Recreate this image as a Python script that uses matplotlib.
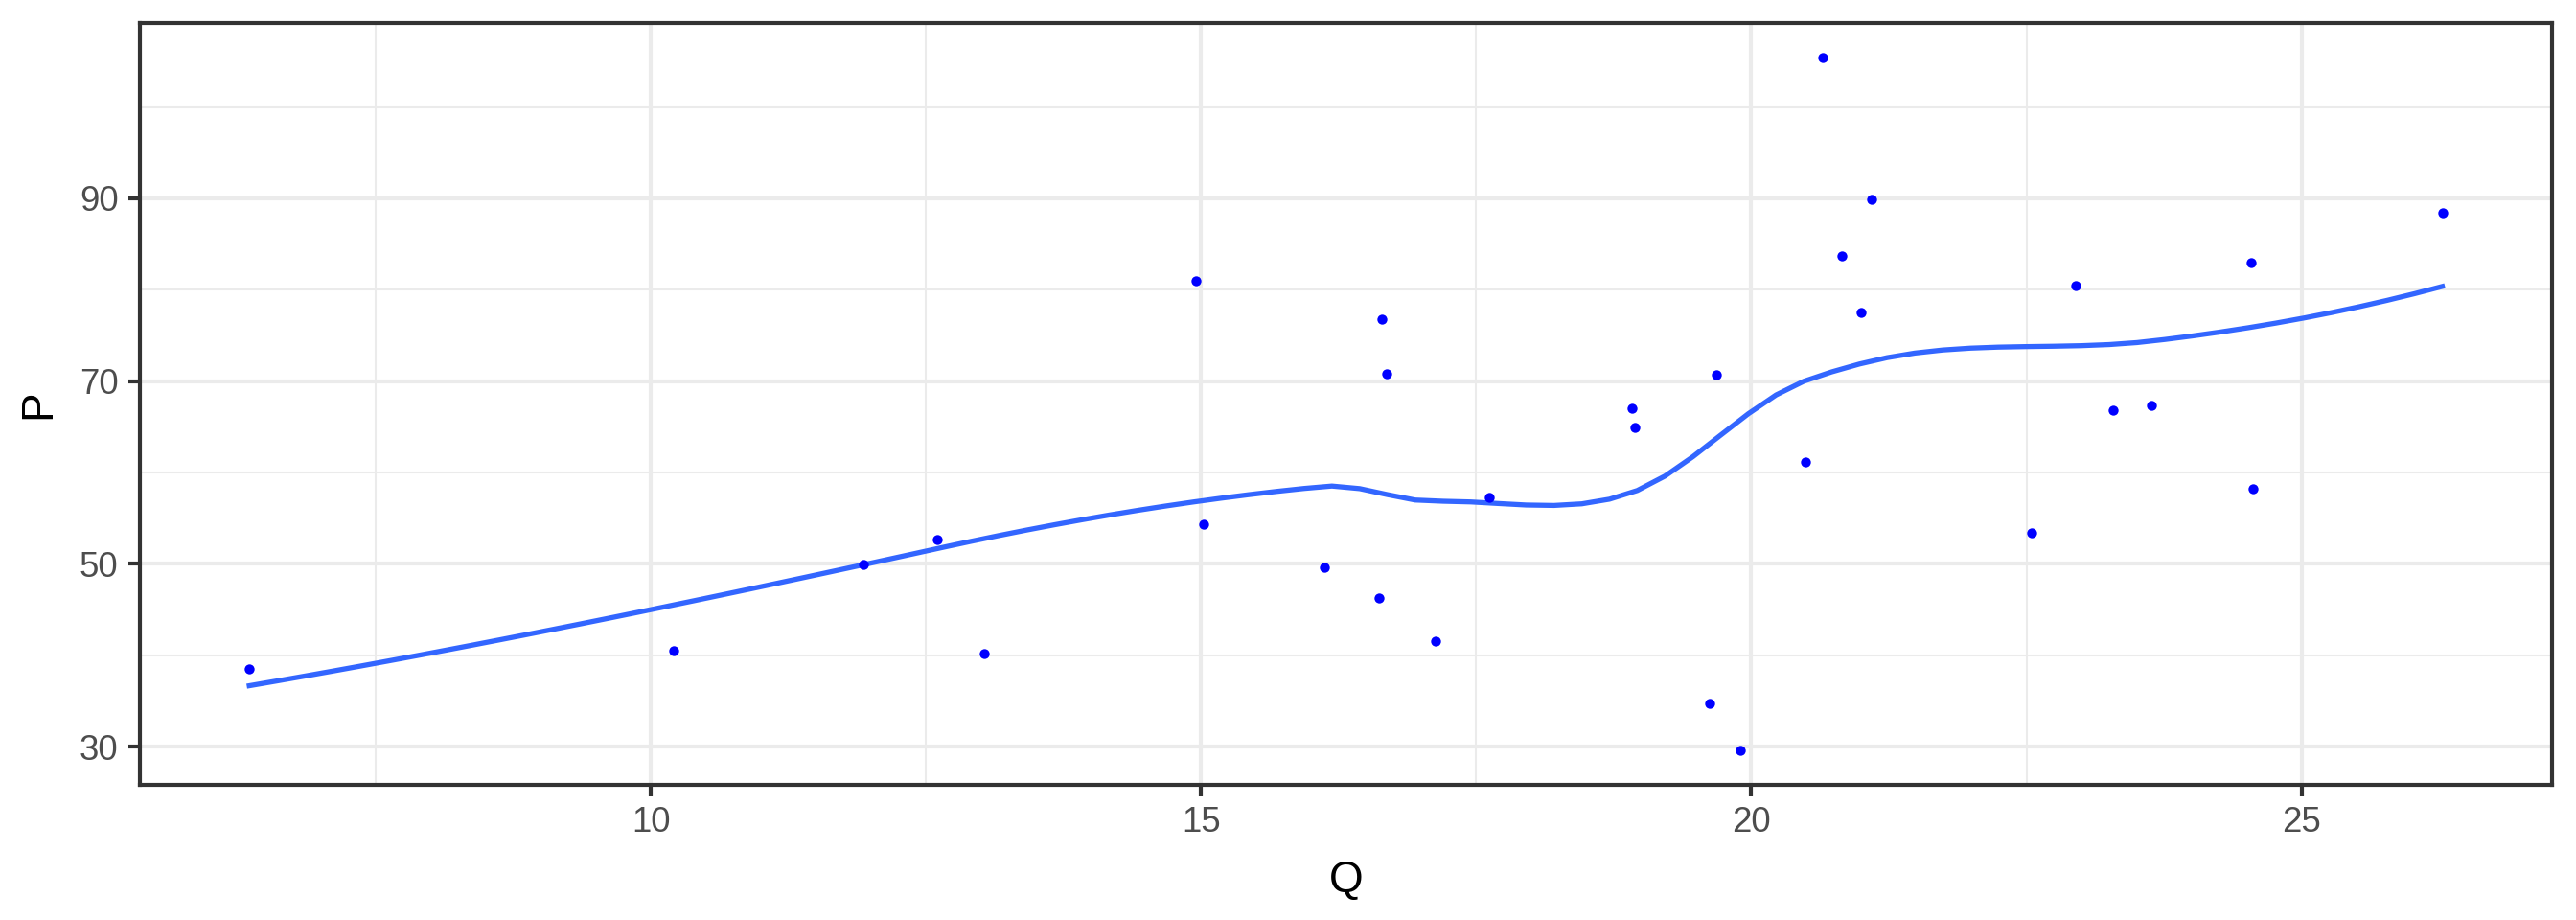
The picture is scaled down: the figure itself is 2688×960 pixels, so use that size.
import numpy as np
import matplotlib
matplotlib.use("Agg")
import matplotlib.pyplot as plt
from matplotlib.ticker import MultipleLocator

# data
Q = [6.35, 10.21, 11.93, 12.60, 13.03, 14.95, 15.02, 16.12, 16.62, 16.64,
     16.69, 17.13, 17.62, 18.92, 18.94, 19.62, 19.68, 19.90, 20.49, 20.65,
     20.82, 21.00, 21.09, 22.55, 22.95, 23.29, 23.64, 24.54, 24.56, 26.28]
P = [38.5, 40.5, 49.9, 52.7, 40.2, 81.0, 54.3, 49.6, 46.3, 76.8,
     70.8, 41.5, 57.3, 67.0, 64.9, 34.7, 70.7, 29.6, 61.2, 105.4,
     83.7, 77.5, 89.9, 53.4, 80.5, 66.8, 67.3, 83.0, 58.2, 88.4]

x_ticks = [10, 15, 20, 25]
y_ticks = [30, 50, 70, 90]


def local_fit(x, y, v, q):
    # local quadratic fit at v with tricube weights (like R loess)
    d = np.abs(x - v)
    dq = np.sort(d)[q - 1]
    u = np.clip(d / dq, 0, 1)
    w = (1 - u ** 3) ** 3
    X = np.column_stack([np.ones_like(x), x - v, (x - v) ** 2])
    sw = np.sqrt(w)
    b = np.linalg.lstsq(X * sw[:, None], y * sw, rcond=None)[0]
    return b[0], b[1]


def loess(x, y, xs, span=0.75, cell=0.2):
    # R's default surface="interpolate": kd-tree vertices + cubic hermite
    n = len(x)
    xs_sorted = np.sort(x)
    q = int(np.floor(n * span + 1e-5))
    fc = int(np.floor(n * span * cell))
    mu = 0.005 * (x.max() - x.min())
    verts = {x.min() - mu, x.max() + mu}

    def split(l, u):
        if u - l + 1 <= fc:
            return
        m = (l + u) // 2
        verts.add(xs_sorted[m - 1])
        split(l, m)
        split(m + 1, u)

    split(1, n)
    verts = np.array(sorted(verts))
    vals = np.array([local_fit(x, y, v, q) for v in verts])
    out = []
    for z in xs:
        i = min(np.searchsorted(verts, z, side="right") - 1, len(verts) - 2)
        v0, v1 = verts[i], verts[i + 1]
        h = v1 - v0
        t = (z - v0) / h
        g0, d0 = vals[i]
        g1, d1 = vals[i + 1]
        phi0 = (1 - t) ** 2 * (1 + 2 * t)
        phi1 = t ** 2 * (3 - 2 * t)
        psi0 = t * (1 - t) ** 2
        psi1 = -t ** 2 * (1 - t)
        out.append(phi0 * g0 + phi1 * g1 + (psi0 * d0 + psi1 * d1) * h)
    return np.array(out)


q = np.array(Q)
p = np.array(P)
grid = np.linspace(q.min(), q.max(), 80)
smooth = loess(q, p, grid)

plt.rcParams["font.family"] = ["Liberation Sans", "DejaVu Sans"]

W, H, DPI = 2688, 960, 300
fig = plt.figure(figsize=(W / DPI, H / DPI), dpi=DPI)
left, right, top, bottom = 145.7, 2663, 24, 819
ax = fig.add_axes([left / W, 1 - bottom / H, (right - left) / W, (bottom - top) / H])

xr = q.max() - q.min()
yr = p.max() - p.min()
ax.set_xlim(q.min() - 0.05 * xr, q.max() + 0.05 * xr)
ax.set_ylim(p.min() - 0.05 * yr, p.max() + 0.05 * yr)

ax.set_xticks(x_ticks)
ax.set_yticks(y_ticks)
ax.xaxis.set_minor_locator(MultipleLocator(2.5))
ax.yaxis.set_minor_locator(MultipleLocator(10))
ax.grid(which="major", color="#EBEBEB", lw=1.0)
ax.grid(which="minor", color="#EBEBEB", lw=0.5)
ax.set_axisbelow(True)
ax.tick_params(which="minor", length=0)
ax.tick_params(which="major", direction="out", length=2.9, width=1.0,
               color="#333333", labelcolor="#4D4D4D", labelsize=8.8, pad=2.4)
for s in ax.spines.values():
    s.set_color("#333333")
    s.set_linewidth(1.0)

ax.scatter(q, p, s=6.2, color="blue", linewidths=0, zorder=3)
ax.plot(grid, smooth, color="#3366FF", lw=1.27, zorder=2)

ax.set_xlabel("Q", fontsize=11, color="black", labelpad=5)
ax.set_ylabel("P", fontsize=11, color="black", labelpad=5)

fig.savefig("out.png", dpi=DPI)
